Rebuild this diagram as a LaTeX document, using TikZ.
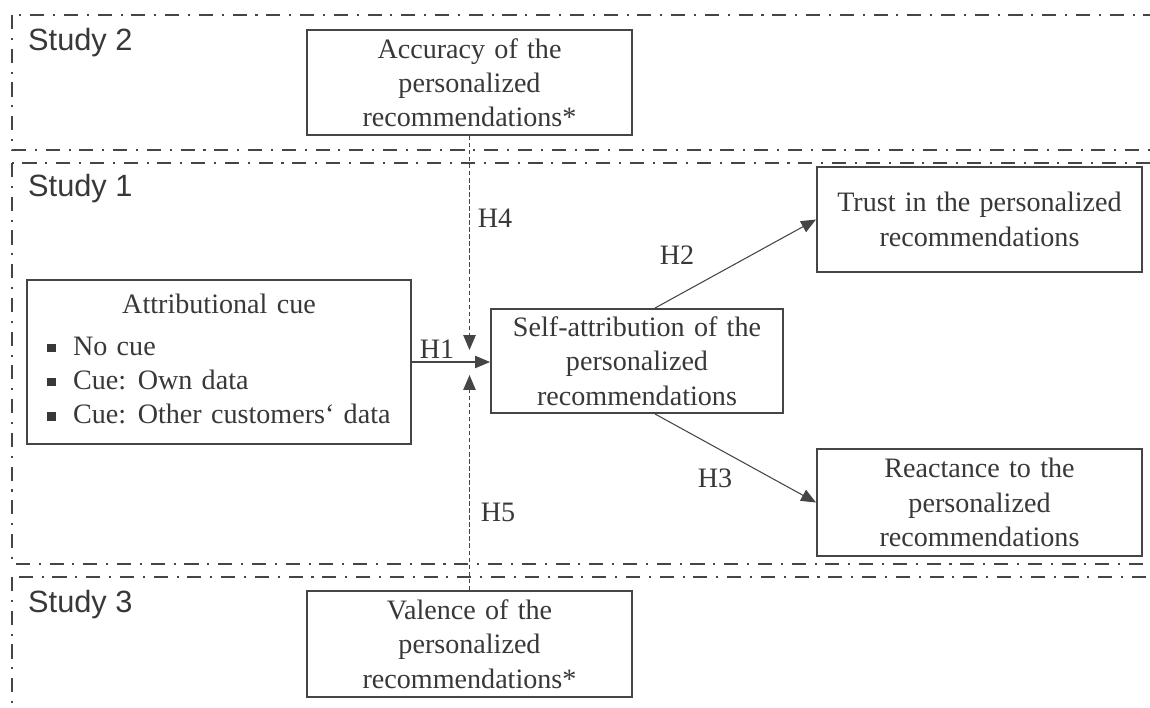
\documentclass[tikz,border=0pt]{standalone}
\usepackage{fontspec}
\setmainfont{Liberation Serif}
\setsansfont{Liberation Sans}
\usepackage{tikz}
\usetikzlibrary{arrows.meta}

\definecolor{framegray}{HTML}{454545}
\definecolor{inkgray}{HTML}{383838}
\newcommand{\sqbul}{\rule[0.25ex]{4.6pt}{4.6pt}\hspace{10pt}}
\newcommand{\boxfont}{\fontsize{16}{19.5}\selectfont\spaceskip=0.33em plus 0.1em\relax}

\tikzset{
  studyframe/.style={draw=framegray, line width=1.1pt, dash pattern=on 8pt off 5pt on 1.2pt off 5pt},
  studylabel/.style={anchor=west, text=inkgray, font=\sffamily\fontsize{17.5}{20}\selectfont},
  varbox/.style={draw=framegray, line width=1.1pt, align=center, text=inkgray, inner sep=2pt,
    font=\boxfont},
  hyp/.style={-{Triangle[length=8.5pt,width=7pt]}, draw=framegray, line width=0.6pt},
  modline/.style={hyp, line width=0.85pt, dash pattern=on 2.5pt off 1.5pt},
  hlabel/.style={text=inkgray, font=\fontsize{16}{19}\selectfont}
}

\begin{document}
\begin{tikzpicture}[x=0.02cm, y=-0.02cm]
    \clip (0,0) rectangle (1150,707);
    \fill[white] (0,0) rectangle (1150,707);

    % frames of the three studies
    \draw[studyframe] (12,15) rectangle (1175,150);
    \draw[studyframe] (12,163) rectangle (1175,564);
    \draw[studyframe] (12,577) rectangle (1175,740);
    \node[studylabel] (s2) at (22,43) {Study 2};
    \node[studylabel] (s1) at (22,189) {Study 1};
    \node[studylabel] (s3) at (22,605) {Study 3};

    % variables
    \node[varbox, minimum width=6.5cm, minimum height=2.1cm] (accuracy) at (469.5,82.5)
        {Accuracy of the\\personalized\\recommendations*};
    \node[varbox, minimum width=7.68cm, minimum height=3.28cm] (cue) at (219,362)
        {\begin{tabular}{@{}l@{}}
            \multicolumn{1}{@{}c@{}}{Attributional cue}\\[4pt]
            \sqbul No cue\\
            \sqbul Cue: Own data\\
            \sqbul Cue: Other customers‘ data
         \end{tabular}};
    \node[varbox, minimum width=5.84cm, minimum height=2.08cm] (selfattr) at (637,361)
        {Self-attribution of the\\personalized\\recommendations};
    \node[varbox, minimum width=6.5cm, minimum height=2.1cm] (trust) at (979.5,219.5)
        {Trust in the personalized\\recommendations};
    \node[varbox, minimum width=6.5cm, minimum height=2.14cm] (reactance) at (979.5,502.5)
        {Reactance to the\\personalized\\recommendations};
    \node[varbox, minimum width=6.5cm, minimum height=2.12cm] (valence) at (469.5,644)
        {Valence of the\\personalized\\recommendations*};

    % hypotheses
    \draw[hyp] (cue.east) -- (cue.east -| selfattr.west);
    \draw[hyp] ([xshift=0.36cm]selfattr.north) -- (trust.west);
    \draw[hyp] ([xshift=0.36cm]selfattr.south) -- (reactance.west);

    % moderators
    \coordinate (h4tip) at (469.5,350);
    \coordinate (h5tip) at (469.5,375);
    \draw[modline] (accuracy.south) -- (h4tip);
    \draw[modline] (valence.north) -- (h5tip);

    \node[hlabel] (h1) at (437,349) {H1};
    \node[hlabel] (h2) at (677,255) {H2};
    \node[hlabel] (h3) at (715,478) {H3};
    \node[hlabel] (h4) at (495,218) {H4};
    \node[hlabel] (h5) at (498,512) {H5};
\end{tikzpicture}
\end{document}
